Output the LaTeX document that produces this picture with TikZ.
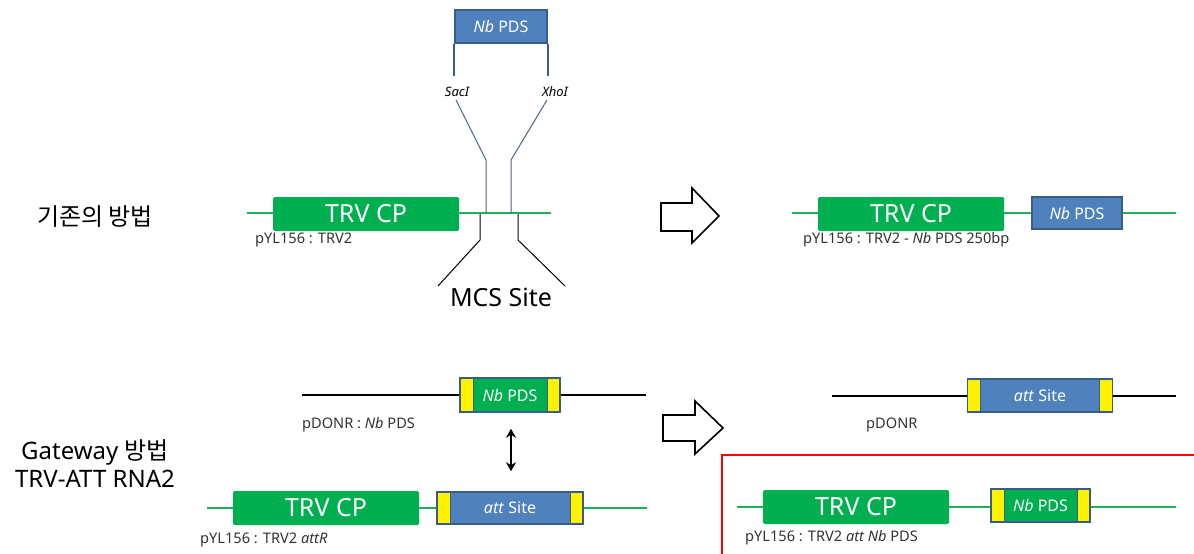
\documentclass[tikz,border=0pt]{standalone}
\usepackage{fontspec}
\setmainfont{Noto Sans}
\newfontfamily\kr{Noto Sans CJK KR}
\usetikzlibrary{arrows.meta}
\definecolor{gfill}{HTML}{00B050}
\definecolor{bfill}{HTML}{4F81BD}
\definecolor{bdraw}{HTML}{385D8A}
\definecolor{gline}{HTML}{1FAE5C}
\definecolor{cutline}{HTML}{4A6282}
\tikzset{
  gene/.style={fill=gfill, rounded corners=1.5pt, text=white, inner sep=0pt,
    minimum width=186pt, minimum height=34pt, font=\fontsize{25}{25}\selectfont},
  bluebox/.style={fill=bfill, draw=bdraw, line width=1.5pt, text=white, inner sep=0pt,
    font=\fontsize{16}{16}\selectfont},
  attbox/.style={draw=bdraw, line width=1.5pt, text=white, inner sep=0pt,
    font=\fontsize{16}{16}\selectfont,
    path picture={
      \fill[yellow,draw=bdraw,line width=0.8pt] (path picture bounding box.north west) rectangle ([xshift=13pt]path picture bounding box.south west);
      \fill[yellow,draw=bdraw,line width=0.8pt] (path picture bounding box.north east) rectangle ([xshift=-13pt]path picture bounding box.south east);
    }},
  backbone/.style={draw=gline, line width=2pt},
  blackbone/.style={draw=black, line width=2pt},
  lbl/.style={anchor=west, inner sep=0pt, text=black!80, font=\fontsize{14.6}{14.6}\selectfont},
  title/.style={inner sep=0pt, font=\fontsize{24}{28}\selectfont, align=center},
  hollow/.style={draw=black, line width=1.6pt, fill=white, line join=miter},
}
\begin{document}
\begin{tikzpicture}[x=1pt,y=-1pt]
\useasboundingbox (0,0) rectangle (1194,554);

% ---------- top left ----------
\node[title] (t1) at (95,217) {\kr 기존의 방법};
\coordinate (l1a) at (247,213);
\coordinate (l1b) at (551,213);
\draw[backbone] (l1a) -- (l1b);
\node[gene] (cp1) at (366,214) {TRV CP};
\node[lbl] (lab1) at (255,240) {pYL156 : TRV2};

\node[bluebox, minimum width=92pt, minimum height=33pt] (pdsTop) at (501,26.5) {\textit{Nb} PDS};
\draw[draw=bdraw, line width=1.6pt] (pdsTop.south west) -- ++(0,32);
\draw[draw=bdraw, line width=1.6pt] (pdsTop.south east) -- ++(0,32);
\node[inner sep=0pt, font=\fontsize{13}{13}\selectfont\itshape] (sac) at (457,92) {SacI};
\node[inner sep=0pt, font=\fontsize{13}{13}\selectfont\itshape] (xho) at (555,92) {XhoI};
\coordinate (sacA) at (456,100);
\coordinate (sacB) at (486,160);
\coordinate (sacC) at (486,213);
\coordinate (xhoA) at (547,100);
\coordinate (xhoB) at (511,160);
\coordinate (xhoC) at (511,213);
\draw[cutline, line width=1pt] (sacA) -- (sacB) -- (sacC);
\draw[cutline, line width=1pt] (xhoA) -- (xhoB) -- (xhoC);

\coordinate (mA) at (480,214);
\coordinate (mB) at (480,240);
\coordinate (mC) at (438,286);
\coordinate (nA) at (518,214);
\coordinate (nB) at (518,240);
\coordinate (nC) at (565,286);
\draw[black, line width=1pt] (mA) -- (mB) -- (mC);
\draw[black, line width=1pt] (nA) -- (nB) -- (nC);
\node[inner sep=0pt, font=\fontsize{25}{25}\selectfont] (mcs) at (501,297) {MCS Site};

% ---------- top right ----------
\draw[hollow] (661,203) -- (692,203) -- (692,188) -- (719,216) -- (692,243) -- (692,231) -- (661,231) -- cycle;
\coordinate (l2a) at (792,213);
\coordinate (l2b) at (1176,213);
\draw[backbone] (l2a) -- (l2b);
\node[gene] (cp2) at (911,214) {TRV CP};
\node[bluebox, minimum width=90pt, minimum height=32pt] (pds2) at (1077,213) {\textit{Nb} PDS};
\node[lbl] (lab2) at (803,240) {pYL156 : TRV2 - \textit{Nb} PDS 250bp};

% ---------- bottom left ----------
\node[title] (t2) at (95,464) {Gateway {\kr 방법}\\TRV-ATT RNA2};
\coordinate (l3a) at (302,395);
\coordinate (l3b) at (646,395);
\draw[blackbone] (l3a) -- (l3b);
\node[attbox, fill=gfill, minimum width=100pt, minimum height=34pt] (pds3) at (510,395) {\textit{Nb} PDS};
\node[lbl] (lab3) at (302,425) {pDONR : \textit{Nb} PDS};

\coordinate (l4a) at (207,508);
\coordinate (l4b) at (647,508);
\draw[backbone] (l4a) -- (l4b);
\node[gene] (cp4) at (326,508) {TRV CP};
\node[attbox, fill=bfill, minimum width=146pt, minimum height=32pt] (att4) at (510,508) {\textit{att} Site};
\node[lbl] (lab4) at (200,540) {pYL156 : TRV2 \textit{attR}};
\draw[black, line width=1.8pt, {Stealth[length=9pt,width=10pt]}-{Stealth[length=9pt,width=10pt]}] ([xshift=1pt,yshift=-16pt]pds3.south) -- ([xshift=1pt,yshift=20pt]att4.north);

% ---------- bottom right ----------
\draw[hollow] (663,415) -- (695,415) -- (695,401) -- (723,428) -- (695,454) -- (695,441) -- (663,441) -- cycle;
\coordinate (l5a) at (832,396);
\coordinate (l5b) at (1176,396);
\draw[blackbone] (l5a) -- (l5b);
\node[attbox, fill=bfill, minimum width=145pt, minimum height=33pt] (att5) at (1040,395.5) {\textit{att} Site};
\node[lbl] (lab5) at (866,425) {pDONR};

\draw[red, line width=2pt] (1195,455) -- (722,455) -- (722,555);
\coordinate (l6a) at (737,507);
\coordinate (l6b) at (1176,507);
\draw[backbone] (l6a) -- (l6b);
\node[gene] (cp6) at (856,507) {TRV CP};
\node[attbox, fill=gfill, minimum width=99pt, minimum height=33pt] (pds6) at (1040.5,505.5) {\textit{Nb} PDS};
\node[lbl] (lab6) at (745,538) {pYL156 : TRV2 \textit{att Nb} PDS};
\end{tikzpicture}
\end{document}
